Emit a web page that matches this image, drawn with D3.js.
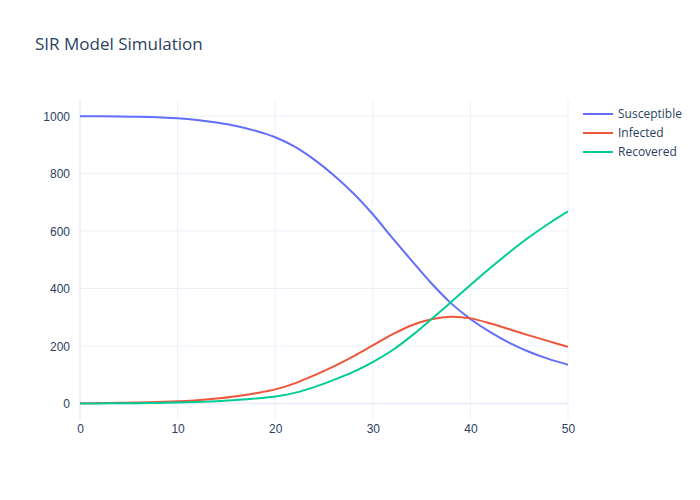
<!DOCTYPE html>
<html>
<head>
<meta charset="utf-8">
<script src="https://cdn.jsdelivr.net/npm/d3@7"></script>
<style>
  html, body { margin: 0; padding: 0; background: #fff; }
  svg { display: block; font-family: "Open Sans", "Noto Sans", sans-serif; }
</style>
</head>
<body>
<svg id="chart" width="700" height="500"></svg>
<script>
const days = [0,2,4,6,8,10,12,14,16,18,20,22,24,26,28,30,32,34,36,38,40,42,44,46,48,50];
const susceptible = [999,999,998,997,995,992,986,977,965,948,926,893,848,794,731,658,576,496,418,349,294,249,211,180,155,135];
const infected = [1,1.5,2.2,3.3,5,7.5,11,17,25,36,49,70,98,129,164,202,240,272,293,302,296,279,258,237,217,197];
const recovered = [0,0.3,0.7,1.2,2,3.2,5,8,12,17,24,37,57,82,110,144,185,236,293,352,412,470,526,578,625,668];
const seriesNames = ["Susceptible","Infected","Recovered"];
const seriesColors = ["#636efa","#EF553B","#00cc96"];
const xTicks = [0,10,20,30,40,50];
const yTicks = [0,200,400,600,800,1000];

const svg = d3.select("#chart");
const L = 80, R = 568, T = 100, B = 420;
const x = d3.scaleLinear().domain([0,50]).range([L,R]);
const y = d3.scaleLinear().domain([-57.4,1055.4]).range([B,T]);
const textColor = "#2a3f5f", gridColor = "#EBF0F8";

// grid
svg.append("g").selectAll("line").data(xTicks.filter(d=>d!==0)).join("line")
  .attr("x1",d=>x(d)).attr("x2",d=>x(d)).attr("y1",T).attr("y2",B)
  .attr("stroke",gridColor).attr("stroke-width",1);
svg.append("g").selectAll("line").data(yTicks.filter(d=>d!==0)).join("line")
  .attr("x1",L).attr("x2",R).attr("y1",d=>y(d)).attr("y2",d=>y(d))
  .attr("stroke",gridColor).attr("stroke-width",1);
// zero lines
svg.append("line").attr("x1",x(0)).attr("x2",x(0)).attr("y1",T).attr("y2",B)
  .attr("stroke",gridColor).attr("stroke-width",2);
svg.append("line").attr("x1",L).attr("x2",R).attr("y1",y(0)).attr("y2",y(0))
  .attr("stroke",gridColor).attr("stroke-width",2);

// axes
const xAxis = d3.axisBottom(x).tickValues(xTicks).tickFormat(d3.format("d")).tickSize(0).tickPadding(0);
const gx = svg.append("g").attr("transform",`translate(0,${B})`).call(xAxis);
gx.select(".domain").remove();
gx.selectAll("text").attr("fill",textColor).style("font-size","12px")
  .attr("dy",null).attr("y",13);

const yAxis = d3.axisLeft(y).tickValues(yTicks).tickFormat(d3.format("d")).tickSize(0).tickPadding(0);
const gy = svg.append("g").attr("transform",`translate(${L-2},0)`).call(yAxis);
gy.select(".domain").remove();
gy.selectAll("text").attr("fill",textColor).style("font-size","12px")
  .attr("x",-8).attr("dy","0.35em");

// lines
const allSeries = [susceptible, infected, recovered];
const line = d3.line().x((d,i)=>x(days[i])).y(d=>y(d)).curve(d3.curveCatmullRom.alpha(0.5));
svg.append("clipPath").attr("id","clip").append("rect")
  .attr("x",L).attr("y",T).attr("width",R-L).attr("height",B-T);
svg.append("g").attr("clip-path","url(#clip)").selectAll("path").data(allSeries).join("path")
  .attr("d",d=>line(d)).attr("fill","none")
  .attr("stroke",(d,i)=>seriesColors[i]).attr("stroke-width",2);

// title
svg.append("text").attr("x",35).attr("y",50).text("SIR Model Simulation")
  .attr("fill",textColor).style("font-size","17px");

// legend
const lg = svg.append("g").attr("transform","translate(583,114)");
seriesNames.forEach((n,i)=>{
  const g = lg.append("g").attr("transform",`translate(0,${i*19})`);
  g.append("line").attr("x1",0).attr("x2",30).attr("y1",0).attr("y2",0)
    .attr("stroke",seriesColors[i]).attr("stroke-width",2);
  g.append("text").attr("x",35).attr("y",0).attr("dy","0.35em").text(n)
    .attr("fill",textColor).style("font-size","12px");
});
</script>
</body>
</html>
